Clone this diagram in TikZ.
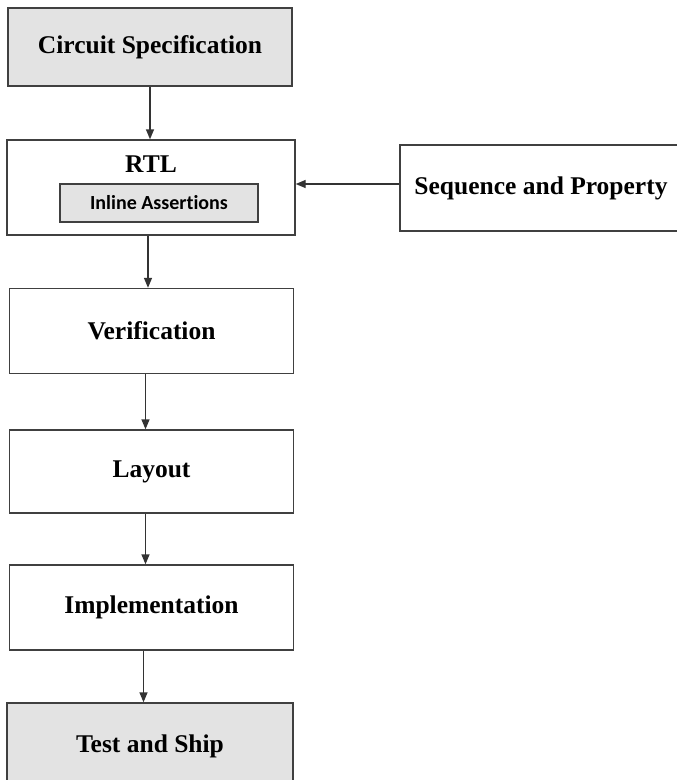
\documentclass[tikz,border=0pt]{standalone}
\usepackage{fontspec}
\setmainfont{Liberation Serif}
\newfontfamily\boxsans[Ligatures=NoCommon]{Carlito}
\usetikzlibrary{arrows.meta}

\begin{document}
\begin{tikzpicture}[x=1pt,y=-1pt,line width=1.4pt,
    stage/.style={draw=black!75,minimum width=284pt,minimum height=85pt,inner sep=0pt,
        font=\fontsize{25.5}{29}\selectfont\bfseries},
    shaded/.style={fill=black!11},
    flow/.style={draw=black!80,-{Triangle[length=10pt,width=8pt]}}]
    \useasboundingbox (0,0) rectangle (677,780);

    % main flow, top to bottom
    \node[stage,shaded,minimum height=78pt] (spec) at (150,47) {Circuit Specification};
    \node[stage,minimum width=288pt,minimum height=95pt] (rtl) at (151,187.5) {};
    \node[font=\fontsize{25.5}{29}\selectfont\bfseries] (rtltitle) at (151,164) {RTL};
    \node[draw=black!75,shaded,minimum width=198pt,minimum height=38pt,inner sep=0pt,
        font=\boxsans\fontsize{20}{24}\selectfont\bfseries] (inline) at (159,203) {Inline Assertions};
    \node[stage] (verif) at (151.5,331) {Verification};
    \node[stage,minimum height=83pt] (layout) at (151.5,471.5) {Layout};
    \node[stage] (impl) at (151.5,607.5) {Implementation};
    \node[stage,shaded,minimum width=286pt,minimum height=86pt] (ship) at (150,746) {Test and Ship};

    % side input
    \node[stage,minimum width=282pt,minimum height=86pt] (seq) at (541,188) {Sequence and Property};

%   \draw[flow] (spec) -- (rtl);
    \draw[flow] (spec.south) -- (spec.south |- rtl.north);
    \draw[flow] ([xshift=-3pt]rtl.south) -- ([xshift=-3pt]rtl.south |- verif.north);
    \draw[flow] ([xshift=-6pt]verif.south) -- ([xshift=-6pt]verif.south |- layout.north);
    \draw[flow] ([xshift=-6pt]layout.south) -- ([xshift=-6pt]layout.south |- impl.north);
    \draw[flow] ([xshift=-8pt]impl.south) -- ([xshift=-8pt]impl.south |- ship.north);
    \draw[flow] ([yshift=4pt]seq.west) -- ([yshift=4pt]seq.west -| rtl.east);
\end{tikzpicture}
\end{document}
